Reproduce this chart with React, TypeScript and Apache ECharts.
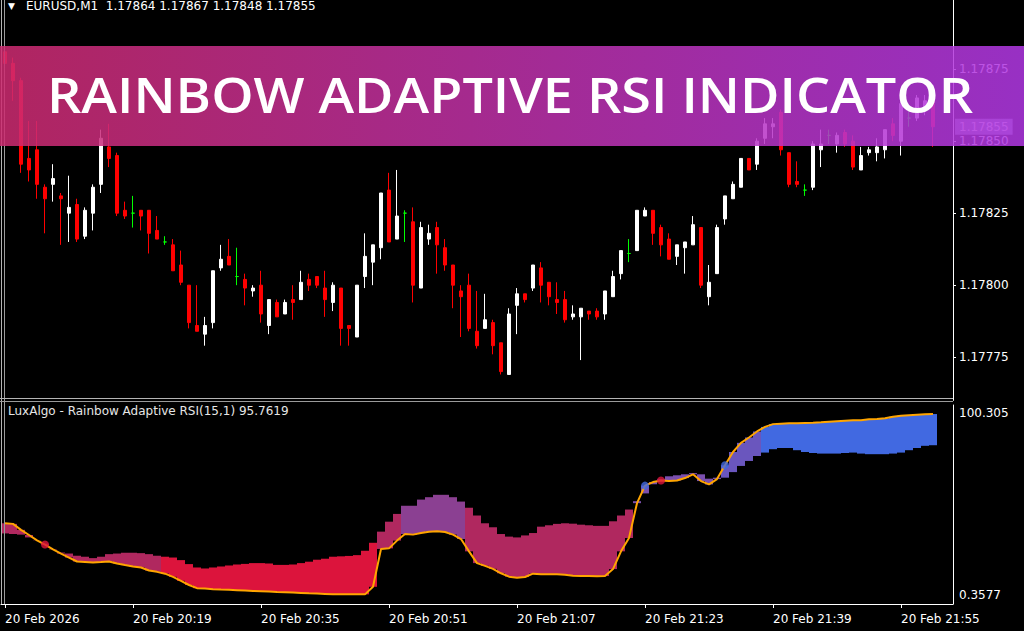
import { useEffect, useRef } from 'react';
import * as echarts from 'echarts';

// ---------- data ----------
const SYMBOL = 'EURUSD,M1';
const DATE_LABEL = '20 Feb';
const YEAR_LABEL = '2026';
const START_HOUR = 20;
const START_MINUTE = 3;
const FUTURE_BARS = 2;

const opens = [
  1.17881, 1.17877, 1.17871, 1.17844, 1.17847, 1.17834, 1.17835, 1.17831, 1.17825, 1.17828,
  1.17817, 1.17825, 1.17835, 1.17848, 1.17845, 1.17826, 1.17825, 1.17826, 1.17826, 1.17819,
  1.17815, 1.17814, 1.17807, 1.178, 1.17786, 1.17783, 1.17787, 1.17806, 1.1781, 1.17803,
  1.17802, 1.17798, 1.178, 1.17786, 1.17794, 1.1779, 1.17795, 1.17795, 1.17802, 1.17803,
  1.17799, 1.17794, 1.17799, 1.17786, 1.17782, 1.17803, 1.17808, 1.17813, 1.17833, 1.17816,
  1.17825, 1.17822, 1.17799, 1.17816, 1.1782, 1.17813, 1.17807, 1.17798, 1.178, 1.17784,
  1.17785, 1.17787, 1.1778, 1.17769, 1.17793, 1.17797, 1.17799, 1.17806, 1.17801, 1.17795,
  1.17795, 1.17789, 1.17789, 1.17791, 1.17791, 1.1779, 1.17796, 1.17804, 1.17811, 1.17812,
  1.17824, 1.17826, 1.1782, 1.17816, 1.1781, 1.17813, 1.17814, 1.1782, 1.17796, 1.17804,
  1.17823, 1.1783, 1.17834, 1.17844, 1.17842, 1.17851, 1.17855, 1.1786, 1.17846, 1.17836,
  1.17833, 1.17834, 1.17847, 1.17852, 1.17849, 1.17853, 1.1785, 1.1784, 1.17846, 1.17846,
  1.17847, 1.17856, 1.1785, 1.17858, 1.17858, 1.17861, 1.17864,
];
const highs = [
  1.17888, 1.17879, 1.17872, 1.17857, 1.17857, 1.17835, 1.17842, 1.17832, 1.17838, 1.1783,
  1.17827, 1.17835, 1.17854, 1.17856, 1.17846, 1.17829, 1.17831, 1.17826, 1.17826, 1.17824,
  1.17817, 1.17816, 1.17812, 1.178, 1.178, 1.17789, 1.17805, 1.17814, 1.17816, 1.17813,
  1.17804, 1.178, 1.17805, 1.17795, 1.17795, 1.17795, 1.178, 1.17805, 1.17804, 1.17803,
  1.17805, 1.17801, 1.17799, 1.17786, 1.178, 1.17818, 1.17814, 1.17832, 1.17839, 1.1784,
  1.17826, 1.17827, 1.17822, 1.17821, 1.17822, 1.17816, 1.17807, 1.178, 1.17804, 1.17798,
  1.17797, 1.17788, 1.1778, 1.17792, 1.17799, 1.17797, 1.17807, 1.17808, 1.17801, 1.17801,
  1.17798, 1.17793, 1.17792, 1.17791, 1.17792, 1.17798, 1.17805, 1.17812, 1.17816, 1.17826,
  1.17827, 1.17826, 1.17821, 1.17818, 1.17814, 1.17815, 1.17824, 1.1782, 1.17807, 1.17821,
  1.17831, 1.17836, 1.17844, 1.17844, 1.17851, 1.17858, 1.17858, 1.17861, 1.17846, 1.17843,
  1.17835, 1.1785, 1.17854, 1.17854, 1.17853, 1.17854, 1.17852, 1.17848, 1.17848, 1.17851,
  1.17854, 1.17858, 1.17865, 1.17862, 1.17866, 1.17866, 1.17867,
];
const lows = [
  1.17874, 1.17864, 1.17839, 1.17836, 1.1783, 1.17818, 1.17829, 1.17814, 1.17815, 1.17815,
  1.17816, 1.17819, 1.17832, 1.17841, 1.17824, 1.17823, 1.1782, 1.17819, 1.17811, 1.17816,
  1.17814, 1.17805, 1.178, 1.17785, 1.17784, 1.17779, 1.17785, 1.17805, 1.17807, 1.178,
  1.17793, 1.17796, 1.17787, 1.17783, 1.17789, 1.1779, 1.17788, 1.17795, 1.17798, 1.17799,
  1.17789, 1.17791, 1.17779, 1.17779, 1.17782, 1.17799, 1.178, 1.17809, 1.17815, 1.17816,
  1.17815, 1.17794, 1.17799, 1.17814, 1.17804, 1.17805, 1.17792, 1.17782, 1.17784, 1.17778,
  1.17785, 1.17776, 1.17769, 1.17769, 1.17783, 1.17794, 1.17798, 1.17794, 1.17793, 1.1779,
  1.17787, 1.17788, 1.17774, 1.17788, 1.17788, 1.17788, 1.17796, 1.17802, 1.17808, 1.17812,
  1.17824, 1.17814, 1.1781, 1.17809, 1.17807, 1.17804, 1.17814, 1.17799, 1.17793, 1.17804,
  1.17821, 1.1783, 1.17834, 1.1784, 1.1784, 1.17849, 1.17851, 1.17845, 1.17834, 1.17834,
  1.17831, 1.17833, 1.17841, 1.17849, 1.17846, 1.17848, 1.1784, 1.1784, 1.17845, 1.17843,
  1.17844, 1.1785, 1.17845, 1.17855, 1.17857, 1.17859, 1.17848,
];
const closes = [
  1.17877, 1.17871, 1.17842, 1.1784, 1.17835, 1.1783, 1.17837, 1.1783, 1.17827, 1.17816,
  1.17826, 1.17834, 1.17851, 1.17844, 1.17825, 1.17824, 1.17825, 1.17824, 1.17818, 1.17816,
  1.17815, 1.17805, 1.17801, 1.17787, 1.17784, 1.17786, 1.17805, 1.17809, 1.17807, 1.17803,
  1.17799, 1.17799, 1.1779, 1.17795, 1.17789, 1.17794, 1.17794, 1.17801, 1.178, 1.178,
  1.17795, 1.178, 1.17785, 1.17785, 1.178, 1.1781, 1.17814, 1.17832, 1.17815, 1.17824,
  1.17825, 1.178, 1.1782, 1.17818, 1.17814, 1.17807, 1.178, 1.17796, 1.17785, 1.17779,
  1.17788, 1.17779, 1.1777, 1.1779, 1.17797, 1.17795, 1.17807, 1.178, 1.17796, 1.17794,
  1.17788, 1.1779, 1.17792, 1.1779, 1.17789, 1.17798, 1.17803, 1.17812, 1.17811, 1.17826,
  1.17826, 1.17818, 1.17814, 1.17809, 1.17814, 1.17815, 1.17821, 1.178, 1.17801, 1.1782,
  1.17831, 1.17835, 1.17844, 1.1784, 1.1785, 1.17856, 1.17856, 1.17847, 1.17835, 1.17835,
  1.17833, 1.17849, 1.17849, 1.17852, 1.17852, 1.17849, 1.17841, 1.17845, 1.17847, 1.17848,
  1.17854, 1.17852, 1.17863, 1.17858, 1.17865, 1.17864, 1.17855,
];

const rsi = [
  40.9, 40.6, 37.6, 35.0, 32.3, 30.2, 27.8, 25.7, 23.7, 21.7,
  21.5, 21.2, 21.4, 21.7, 20.7, 19.9, 19.2, 18.7, 17.2, 16.5,
  15.6, 14.0, 12.0, 9.9, 8.3, 8.1, 7.8, 7.6, 7.5, 7.3,
  7.1, 6.9, 6.8, 6.6, 6.4, 6.3, 6.1, 5.9, 5.7, 5.6,
  5.4, 5.2, 5.2, 5.2, 5.2, 5.2, 9.0, 28.0, 28.3, 32.2,
  35.5, 35.2, 36.0, 36.7, 36.9, 36.5, 35.2, 33.0, 26.8, 20.9,
  19.5, 18.0, 15.8, 14.1, 13.6, 13.9, 15.6, 15.3, 15.3, 15.3,
  15.1, 14.6, 14.4, 14.4, 14.3, 14.4, 17.9, 26.8, 33.5, 51.0,
  59.8, 61.6, 62.4, 62.1, 62.4, 63.6, 65.5, 62.1, 60.4, 63.1,
  70.0, 76.7, 81.3, 84.0, 87.0, 89.3, 90.7, 90.9, 91.1, 91.1,
  91.3, 91.4, 91.6, 91.9, 92.2, 92.4, 92.6, 92.7, 93.1, 93.3,
  93.6, 94.4, 94.9, 95.2, 95.4, 95.6, 95.7619,
];
const signal = [
  35.8, 35.5, 35.2, 33.8, 32.2, 30.6, 28.0, 26.2, 25.7, 24.6,
  24.1, 23.4, 24.1, 25.4, 25.7, 26.1, 26.1, 25.9, 25.4, 24.6,
  24.1, 23.7, 22.4, 20.4, 18.7, 18.2, 18.7, 19.2, 19.7, 20.2,
  20.5, 20.9, 20.9, 20.7, 20.0, 20.0, 20.2, 20.9, 21.6, 22.6,
  23.1, 24.1, 24.3, 24.5, 24.9, 27.1, 31.1, 36.7, 41.7, 45.6,
  49.7, 49.7, 52.8, 54.0, 55.2, 55.2, 54.0, 51.8, 48.7, 44.8,
  40.9, 38.9, 35.5, 34.2, 33.8, 34.8, 36.0, 39.2, 39.9, 40.6,
  40.9, 40.7, 40.2, 39.9, 39.6, 39.6, 41.9, 44.8, 47.8, 52.0,
  55.9, 60.5, 63.0, 64.5, 65.0, 65.5, 66.1, 65.5, 63.3, 63.8,
  63.8, 66.6, 69.7, 72.2, 74.7, 76.4, 78.1, 78.7, 78.7, 77.6,
  76.7, 76.2, 75.9, 75.9, 75.9, 76.2, 76.4, 75.9, 75.6, 75.6,
  75.6, 75.9, 76.4, 77.6, 78.7, 79.8, 80.1,
];
// colour zone of the rainbow band, by bar range
const toneRuns = [
  { from: 0, to: 19, tone: 1 },
  { from: 20, to: 46, tone: 0 },
  { from: 47, to: 49, tone: 1 },
  { from: 50, to: 57, tone: 2 },
  { from: 58, to: 78, tone: 1 },
  { from: 79, to: 89, tone: 3 },
  { from: 90, to: 94, tone: 4 },
  { from: 95, to: 116, tone: 5 },
];
const priceTicks = [1.17775, 1.178, 1.17825, 1.1785, 1.17875];
const rsiMin = 0.3577;
const rsiMax = 100.305;

// ---------- styles ----------
const TONES = ['#dc143c', '#b0285f', '#8b4092', '#7b4fae', '#6a56be', '#4169e1'];
const FONT = 'DejaVu Sans';
const FG = '#ffffff';
const BULL = '#ffffff';
const BEAR = '#ff0000';
const DOJI = '#00ff00';

const n = opens.length;
const categories: string[] = [];
for (let i = 0; i < n + FUTURE_BARS; i++) {
  const t = START_HOUR * 60 + START_MINUTE + i;
  categories.push(String(Math.floor(t / 60)).padStart(2, '0') + ':' + String(t % 60).padStart(2, '0'));
}

const candleData = opens.map((o, i) => {
  const c = closes[i];
  const item: any = { value: [o, c, lows[i], highs[i]] };
  if (o === c) item.itemStyle = { color: DOJI, color0: DOJI, borderColor: DOJI, borderColor0: DOJI };
  return item;
});

const toneAt = (i: number) => {
  const r = toneRuns.find((t) => i >= t.from && i <= t.to);
  return r ? r.tone : 1;
};
const bandLow = rsi.map((r, i) => Math.min(r, signal[i]));
const bandSpan = rsi.map((r, i) => ({
  value: Math.abs(r - signal[i]),
  itemStyle: { color: TONES[toneAt(i)] },
}));

const crossUp: [number, number][] = [];
const crossDown: [number, number][] = [];
for (let i = 1; i < n; i++) {
  const was = rsi[i - 1] > signal[i - 1];
  const is = rsi[i] > signal[i];
  if (!was && is) crossUp.push([i, rsi[i]]);
  if (was && !is) crossDown.push([i, rsi[i]]);
}

const last = n - 1;
const f5 = (v: number) => v.toFixed(5);
const headerText = `${SYMBOL}  ${f5(opens[last])} ${f5(highs[last])} ${f5(lows[last])} ${f5(closes[last])}`;
const titleText = `LuxAlgo - Rainbow Adaptive RSI(15,1) ${rsi[last].toFixed(4)}`;

const PRICE_MIN = 1.1776;
const PRICE_MAX = 1.17899;

const option: any = {
  animation: false,
  backgroundColor: '#000000',
  textStyle: { fontFamily: FONT },
  grid: [
    { left: 1, width: 952, top: -1, height: 401.4 },
    { left: 1, width: 952, top: 405, height: 199 },
  ],
  xAxis: [
    { type: 'category', gridIndex: 0, data: categories, show: false },
    {
      type: 'category',
      gridIndex: 1,
      data: categories,
      axisLine: { show: true, lineStyle: { color: FG, width: 1 } },
      axisTick: { show: true, interval: 15, alignWithLabel: true, length: 4, lineStyle: { color: FG } },
      axisLabel: {
        interval: 15,
        align: 'left',
        margin: 9,
        color: FG,
        fontSize: 12,
        fontFamily: FONT,
        formatter: (v: string, idx: number) => (idx === 0 ? `${DATE_LABEL} ${YEAR_LABEL}` : `${DATE_LABEL} ${v}`),
      },
      splitLine: { show: false },
    },
  ],
  yAxis: [
    {
      type: 'value',
      gridIndex: 0,
      position: 'right',
      min: PRICE_MIN,
      max: PRICE_MAX,
      axisLine: { show: true, lineStyle: { color: FG } },
      axisTick: { show: true, customValues: priceTicks, length: 3, lineStyle: { color: FG } },
      axisLabel: {
        customValues: priceTicks,
        formatter: (v: number) => v.toFixed(5),
        color: FG,
        fontSize: 12,
        fontFamily: FONT,
        margin: 6,
      },
      splitLine: { show: false },
    },
    {
      type: 'value',
      gridIndex: 1,
      position: 'right',
      min: rsiMin,
      max: rsiMax,
      axisLine: { show: true, lineStyle: { color: FG } },
      axisTick: { show: false },
      axisLabel: {
        customValues: [rsiMin, rsiMax],
        formatter: (v: number) => (v > 50 ? `{top|${v}}` : `{bot|${v}}`),
        color: FG,
        fontSize: 12,
        fontFamily: FONT,
        margin: 6,
        rich: {
          top: { padding: [16, 0, 0, 0], color: FG, fontSize: 12, fontFamily: FONT },
          bot: { padding: [0, 0, 19, 0], color: FG, fontSize: 12, fontFamily: FONT },
        },
      },
      splitLine: { show: false },
    },
    {
      // bid price label
      type: 'value',
      gridIndex: 0,
      position: 'right',
      min: PRICE_MIN,
      max: PRICE_MAX,
      axisLine: { show: false },
      axisTick: { show: false },
      splitLine: { show: false },
      axisLabel: {
        customValues: [closes[last]],
        formatter: (v: number) => v.toFixed(5),
        color: '#ffffff',
        backgroundColor: '#778899',
        padding: [2, 4, 2, 4],
        fontSize: 12,
        fontFamily: FONT,
        margin: 2,
      },
    },
  ],
  series: [
    {
      type: 'candlestick',
      xAxisIndex: 0,
      yAxisIndex: 0,
      barWidth: 4,
      data: candleData,
      itemStyle: { color: BULL, color0: BEAR, borderColor: BULL, borderColor0: BEAR, borderWidth: 1 },
    },
    {
      type: 'bar',
      xAxisIndex: 1,
      yAxisIndex: 1,
      stack: 'band',
      barWidth: '100%',
      barCategoryGap: '0%',
      silent: true,
      itemStyle: { color: 'rgba(0,0,0,0)' },
      data: bandLow,
    },
    {
      type: 'bar',
      xAxisIndex: 1,
      yAxisIndex: 1,
      stack: 'band',
      barWidth: '100%',
      barCategoryGap: '0%',
      silent: true,
      data: bandSpan,
    },
    {
      type: 'line',
      xAxisIndex: 1,
      yAxisIndex: 1,
      data: rsi,
      symbol: 'none',
      showSymbol: false,
      z: 5,
      lineStyle: { color: '#ffa500', width: 2 },
    },
    {
      type: 'scatter',
      xAxisIndex: 1,
      yAxisIndex: 1,
      data: crossUp,
      symbolSize: 8,
      z: 6,
      itemStyle: { color: '#4169e1' },
    },
    {
      type: 'scatter',
      xAxisIndex: 1,
      yAxisIndex: 1,
      data: crossDown,
      symbolSize: 8,
      z: 6,
      itemStyle: { color: '#dc143c' },
    },
  ],
  graphic: [
    { type: 'line', z: 10, shape: { x1: 1.5, y1: 0, x2: 1.5, y2: 604 }, style: { stroke: '#b4b4b4', lineWidth: 1 } },
    { type: 'line', z: 10, shape: { x1: 4.5, y1: 0, x2: 4.5, y2: 604 }, style: { stroke: '#9a9a9a', lineWidth: 1 } },
    { type: 'line', z: 10, shape: { x1: 0, y1: 398.5, x2: 953, y2: 398.5 }, style: { stroke: '#b4b4b4', lineWidth: 1 } },
    { type: 'line', z: 10, shape: { x1: 0, y1: 401.5, x2: 953, y2: 401.5 }, style: { stroke: '#9a9a9a', lineWidth: 1 } },
    { type: 'rect', z: 120, shape: { x: 0, y: 631, width: 1024, height: 9 }, style: { fill: '#ffffff' } },
    {
      type: 'text',
      z: 10,
      x: 8,
      y: 6,
      style: { text: '▼', fill: FG, font: `9px "${FONT}"`, verticalAlign: 'middle' },
    },
    {
      type: 'text',
      z: 10,
      x: 26,
      y: 6,
      style: { text: headerText, fill: FG, font: `12px "${FONT}"`, verticalAlign: 'middle' },
    },
    {
      type: 'text',
      z: 10,
      x: 8,
      y: 411,
      style: { text: titleText, fill: '#e6e6e6', font: `12px "${FONT}"`, verticalAlign: 'middle' },
    },
    {
      type: 'rect',
      z: 100,
      shape: { x: 0, y: 46, width: 1024, height: 100 },
      style: {
        fill: new echarts.graphic.LinearGradient(0, 0, 1, 0, [
          { offset: 0, color: '#cd2b70' },
          { offset: 1, color: '#b138e4' },
        ]),
        opacity: 0.86,
      },
    },
    {
      type: 'text',
      z: 101,
      x: 510,
      y: 94,
      scaleX: 1.1,
      style: {
        text: 'RAINBOW ADAPTIVE RSI INDICATOR',
        fill: '#ffffff',
        font: '600 49px "Open Sans"',
        align: 'center',
        verticalAlign: 'middle',
      },
    },
  ],
};

export default function App() {
  const ref = useRef<HTMLDivElement>(null);
  useEffect(() => {
    document.body.style.margin = '0';
    const chart = echarts.init(ref.current as HTMLDivElement, undefined, { renderer: 'svg' });
    chart.setOption(option);
    return () => chart.dispose();
  }, []);
  return <div ref={ref} style={{ width: 1024, height: 640 }} />;
}
